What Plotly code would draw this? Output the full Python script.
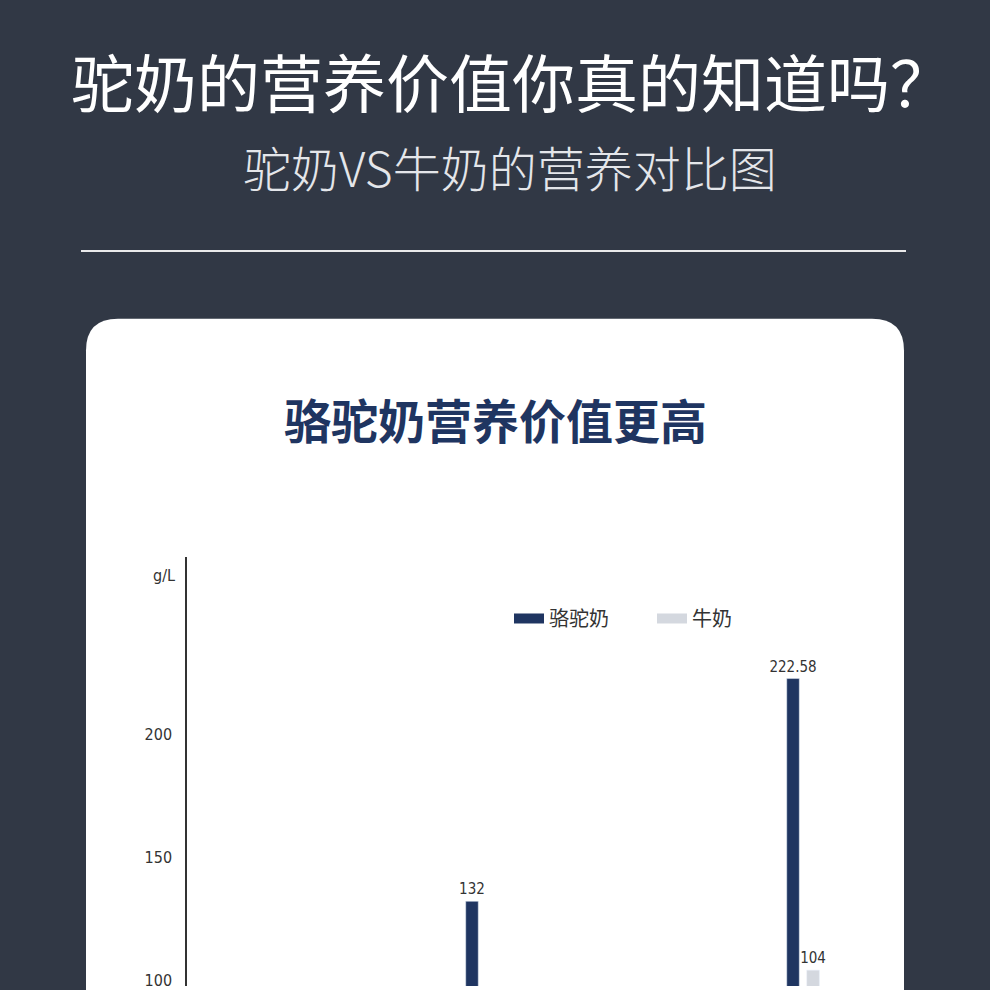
import plotly.graph_objects as go

# data (the lower part of the chart is cut off)
groups = ["组一", "组二"]
camel_vals = [132, 222.58]
cow_vals = [None, 104]
camel_labels = ["132", "222.58"]
cow_labels = ["", "104"]
y_ticks = [100, 150, 200]
series_names = ["骆驼奶", "牛奶"]

CAMEL = "#1f3561"
COW = "#d4d8df"
BG = "#313845"
CJK = "Noto Sans CJK SC"
NARROW = "DejaVu Sans Condensed, Liberation Sans Narrow, Roboto, sans-serif"

W = H = 990


def px(x):
    return x / W


def py(y):
    return 1 - y / H


fig = go.Figure()

fig.add_trace(go.Bar(
    x=groups, y=camel_vals, name=series_names[0], marker_color=CAMEL,
    text=camel_labels, textposition="outside", constraintext="none",
    textfont=dict(family=NARROW, size=15, color="#333333"),
    cliponaxis=False, showlegend=False,
))
fig.add_trace(go.Bar(
    x=groups, y=cow_vals, name=series_names[1], marker_color=COW,
    text=cow_labels, textposition="outside", constraintext="none",
    textfont=dict(family=NARROW, size=15, color="#333333"),
    cliponaxis=False, showlegend=False,
))

# legend entries drawn as thick lines to get the wide swatches
for name, col in zip(series_names, [CAMEL, COW]):
    fig.add_trace(go.Scatter(
        x=[None], y=[None], mode="lines", name=name,
        line=dict(color=col, width=13),
    ))

# white card with rounded top corners
r = 32
x0, x1, top = 86, 904, 320
path = (
    f"M {px(x0)},{py(1010)} L {px(x0)},{py(top + r)} "
    f"Q {px(x0)},{py(top)} {px(x0 + r)},{py(top)} "
    f"L {px(x1 - r)},{py(top)} "
    f"Q {px(x1)},{py(top)} {px(x1)},{py(top + r)} "
    f"L {px(x1)},{py(1010)} Z"
)

fig.update_layout(
    width=W, height=H,
    margin=dict(l=0, r=0, t=0, b=0),
    paper_bgcolor=BG,
    plot_bgcolor="rgba(0,0,0,0)",
    barmode="group",
    bargap=0.875,
    bargroupgap=0.375,
    font=dict(family=CJK, color="#333333"),
    shapes=[
        dict(type="path", xref="paper", yref="paper", path=path,
             fillcolor="white", line=dict(width=0), layer="below"),
        dict(type="line", xref="paper", yref="paper",
             x0=px(81), x1=px(906), y0=py(252), y1=py(252),
             line=dict(color="#e9e9ea", width=2)),
    ],
    annotations=[
        dict(text="驼奶的营养价值你真的知道吗？", xref="paper", yref="paper",
             x=px(512), y=py(80), showarrow=False, xanchor="center", yanchor="middle",
             font=dict(family=CJK, size=63, color="white", weight=400)),
        dict(text="驼奶VS牛奶的营养对比图", xref="paper", yref="paper",
             x=px(510), y=py(167), showarrow=False, xanchor="center", yanchor="middle",
             font=dict(family=CJK, size=48, color="#e4e6ea", weight=300)),
        dict(text="<b>骆驼奶营养价值更高</b>", xref="paper", yref="paper",
             x=0.5, y=py(420), showarrow=False, xanchor="center", yanchor="middle",
             font=dict(family=CJK, size=47, color=CAMEL)),
        dict(text="g/L", xref="paper", yref="paper",
             x=px(177), y=py(578), showarrow=False, xanchor="right", yanchor="middle",
             font=dict(family=NARROW, size=16, color="#333333")),
    ],
    legend=dict(
        orientation="h", x=px(509), y=py(621), xanchor="left", yanchor="middle",
        font=dict(family=CJK, size=20, color="#333333"),
        bgcolor="rgba(0,0,0,0)", itemwidth=30,
        entrywidth=98, entrywidthmode="pixels",
    ),
    xaxis=dict(
        domain=[px(187), px(900)],
        range=[-0.919, 1.302],
        showticklabels=False, showline=False, showgrid=False, zeroline=False,
    ),
    yaxis=dict(
        domain=[0, py(559)],
        range=[97.57, 272.1],
        tickvals=y_ticks,
        showline=True, linecolor="#333333", linewidth=1.5,
        showgrid=False, zeroline=False, ticks="",
        ticklabelstandoff=10, ticklabeloverflow="allow",
        tickfont=dict(family=NARROW, size=16, color="#333333"),
    ),
)

# pin the figure to the top-left corner of the window
pin = (
    "document.body.style.margin='0';"
    "var d=document.getElementById('{plot_id}');"
    "d.style.position='fixed';d.style.left='0';d.style.top='0';"
)
fig.write_html("out.html", config={"displayModeBar": False}, post_script=pin)
